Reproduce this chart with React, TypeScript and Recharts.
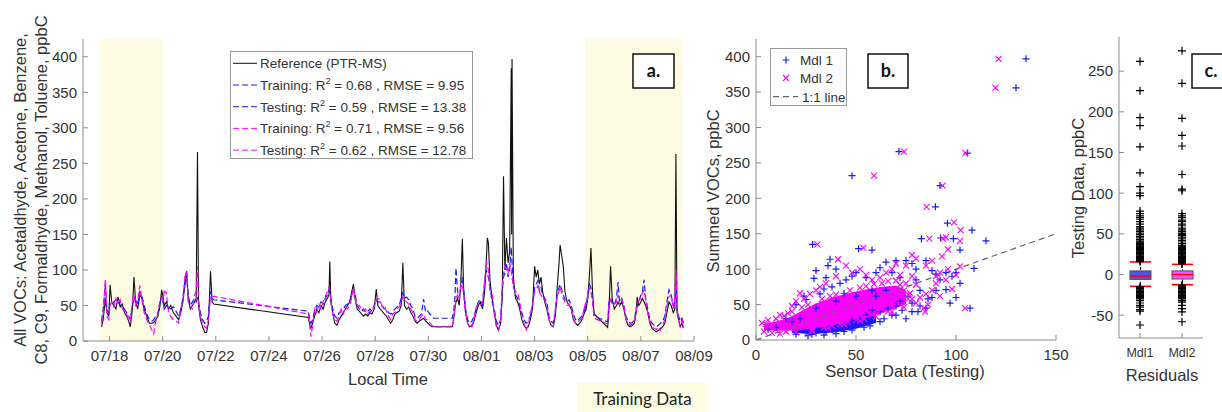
import React from 'react';
import { ComposedChart, Line, Area, Bar, Scatter, XAxis, YAxis, ReferenceArea } from 'recharts';

const FONT = '"Liberation Sans", Arial, Helvetica, sans-serif';
const TEXT = '#333';
const AXIS = '#8c8c8c';
const SHADE = '#fdfce3';
const BLUE = '#1a1aff';
const MAGENTA = '#ff00ff';

// ---------- panel a: days after 07/17 00:00 ----------
const time = [
  0.70, 0.76, 0.84, 0.90, 0.97, 1.02, 1.08, 1.16, 1.24, 1.32,
  1.40, 1.48, 1.56, 1.64, 1.72, 1.78, 1.86, 1.92, 1.98, 2.06,
  2.14, 2.22, 2.30, 2.40, 2.50, 2.60, 2.66, 2.74, 2.82, 2.90,
  2.96, 3.00, 3.06, 3.14, 3.22, 3.30, 3.40, 3.50, 3.60, 3.68,
  3.76, 3.84, 3.90, 3.96, 4.04, 4.12, 4.20, 4.26, 4.31, 4.35,
  4.42, 4.50, 4.58, 4.65, 4.72, 4.80, 4.86, 4.92,
  8.48, 8.54, 8.58, 8.64, 8.72, 8.80, 8.88, 8.96, 9.04, 9.12,
  9.20, 9.26, 9.29, 9.33, 9.40, 9.48, 9.56, 9.64, 9.72, 9.80,
  9.88, 9.96, 10.04, 10.12, 10.18, 10.24, 10.32, 10.40, 10.48, 10.56,
  10.64, 10.72, 10.80, 10.88, 10.96, 11.04, 11.10, 11.18, 11.26, 11.34,
  11.42, 11.50, 11.58, 11.66, 11.74, 11.82, 11.90, 11.98, 12.04, 12.10,
  12.18, 12.26, 12.34, 12.42, 12.50, 12.58, 12.66, 12.74, 12.82, 12.90,
  12.98, 13.06, 13.14, 13.20,
  13.90, 13.95, 14.00, 14.04, 14.10, 14.16, 14.22, 14.28, 14.33, 14.40,
  14.48, 14.56, 14.64, 14.72, 14.80, 14.88, 14.96, 15.04, 15.12, 15.18,
  15.22, 15.26, 15.32, 15.40, 15.48, 15.56, 15.64, 15.72, 15.78, 15.83,
  15.88, 15.94, 16.00, 16.06, 16.12, 16.135, 16.15, 16.20, 16.28, 16.36,
  16.44, 16.52, 16.60, 16.68, 16.76, 16.84, 16.92, 17.00, 17.06, 17.12,
  17.18, 17.24, 17.30, 17.38, 17.46, 17.54, 17.62, 17.70, 17.78, 17.86,
  17.92, 17.96, 18.02, 18.08, 18.14, 18.22, 18.30, 18.38, 18.46, 18.54,
  18.62, 18.70, 18.78, 18.86, 18.94, 19.00, 19.06, 19.12, 19.18, 19.24,
  19.75, 19.80, 19.86, 19.92, 20.00, 20.08, 20.14, 20.20, 20.28, 20.36,
  20.44, 20.52, 20.60, 20.68, 20.76, 20.82, 20.86, 20.92, 21.00, 21.06,
  21.12, 21.18, 21.26, 21.34, 21.42, 21.50, 21.58, 21.66, 21.74, 21.82,
  21.90, 21.98, 22.06, 22.14, 22.22, 22.28, 22.32, 22.36, 22.42, 22.48,
  22.54, 22.60,
];

const reference = [
  20, 30, 60, 40, 35, 79, 55, 50, 45, 62,
  48, 52, 40, 35, 28, 20, 45, 90, 55, 45,
  65, 60, 45, 35, 25, 25, 26, 30, 35, 50,
  72, 65, 50, 55, 45, 50, 40, 35, 30, 40,
  55, 80, 95, 60, 45, 50, 55, 60, 266, 50,
  30, 20, 12, 12, 25, 98, 55, 52,
  33, 22, 18, 25, 35, 45, 40, 50, 45, 55,
  60, 65, 112, 55, 40, 25, 22, 30, 35, 40,
  45, 50, 55, 70, 80, 60, 45, 42, 38, 35,
  38, 35, 40, 38, 45, 73, 50, 45, 42, 38,
  35, 30, 25, 30, 38, 40, 42, 50, 110, 50,
  45, 48, 40, 35, 28, 25, 28, 30, 32, 28,
  25, 22, 20, 20,
  20, 30, 45, 55, 60, 50, 80, 144, 70, 40,
  25, 20, 22, 28, 40, 50, 55, 45, 70, 110,
  145, 138, 85, 60, 40, 22, 15, 25, 60, 232,
  100, 145, 110, 125, 384, 150, 397, 90, 60, 55,
  45, 30, 22, 18, 20, 30, 45, 105, 90, 100,
  80, 90, 70, 55, 45, 30, 22, 20, 35, 80,
  110, 135, 120, 105, 70, 55, 50, 45, 30, 25,
  22, 25, 30, 38, 45, 60, 90, 131, 70, 38,
  19, 45, 105, 60, 45, 50, 55, 50, 55, 45,
  30, 22, 20, 22, 25, 40, 62, 50, 55, 60,
  55, 50, 40, 25, 18, 15, 13, 15, 18, 20,
  25, 40, 55, 50, 40, 45, 263, 40, 30, 20,
  25, 18,
];

const mdl1 = [
  28, 45, 80, 45, 38, 52, 50, 55, 58, 55,
  50, 50, 45, 40, 35, 30, 50, 60, 58, 50,
  70, 62, 50, 38, 30, 28, 30, 35, 38, 55,
  62, 58, 45, 50, 48, 45, 48, 42, 35, 45,
  60, 85, 100, 65, 50, 55, 60, 55, 60, 55,
  40, 30, 25, 28, 35, 70, 60, 58,
  42, 30, 25, 30, 42, 50, 48, 55, 52, 60,
  65, 72, 68, 60, 45, 35, 32, 40, 42, 45,
  50, 52, 55, 65, 72, 65, 50, 45, 42, 45,
  40, 42, 45, 42, 50, 58, 55, 55, 50, 45,
  45, 40, 38, 40, 45, 48, 50, 60, 68, 60,
  62, 58, 50, 45, 35, 32, 35, 38, 59, 40,
  42, 38, 35, 32,
  32, 40, 60, 103, 70, 60, 75, 90, 72, 45,
  30, 25, 28, 35, 45, 55, 58, 50, 80, 100,
  95, 90, 75, 55, 45, 28, 22, 30, 70, 90,
  95, 110, 90, 100, 132, 120, 110, 80, 65, 60,
  50, 40, 30, 25, 28, 36, 50, 75, 80, 85,
  70, 75, 65, 60, 55, 35, 28, 25, 40, 70,
  75, 80, 72, 65, 58, 55, 58, 50, 38, 30,
  28, 32, 35, 42, 50, 65, 80, 75, 60, 35,
  27, 55, 60, 55, 50, 60, 83, 55, 60, 50,
  35, 28, 25, 26, 30, 45, 50, 55, 65, 70,
  86, 60, 45, 30, 25, 22, 20, 22, 25, 28,
  35, 55, 72, 65, 50, 55, 80, 45, 35, 28,
  32, 25,
];

const mdl2 = [
  25, 40, 87, 35, 30, 50, 55, 48, 60, 52,
  58, 45, 42, 38, 30, 28, 55, 65, 50, 55,
  78, 58, 40, 30, 22, 15, 10, 28, 40, 58,
  60, 55, 70, 68, 40, 35, 30, 28, 25, 45,
  58, 92, 98, 55, 48, 45, 65, 70, 105, 50,
  35, 25, 20, 18, 30, 60, 62, 63,
  38, 20, 6, 20, 45, 40, 52, 45, 55, 62,
  70, 76, 72, 55, 38, 30, 28, 35, 45, 38,
  48, 45, 50, 62, 75, 60, 48, 50, 45, 42,
  45, 38, 42, 40, 48, 55, 60, 58, 48, 50,
  42, 35, 30, 38, 40, 45, 48, 55, 62, 58,
  55, 52, 45, 40, 30, 28, 30, 35, 38, 30,
  30, 25, 22, 20,
  20, 32, 48, 60, 65, 58, 78, 80, 65, 40,
  25, 18, 20, 30, 48, 52, 50, 55, 85, 114,
  105, 100, 70, 65, 40, 20, 16, 28, 75, 95,
  105, 100, 95, 110, 100, 95, 90, 75, 70, 68,
  55, 35, 25, 15, 22, 40, 48, 70, 72, 78,
  68, 65, 60, 58, 50, 30, 22, 20, 45, 65,
  70, 76, 68, 60, 55, 50, 52, 45, 32, 25,
  25, 30, 32, 45, 55, 60, 75, 70, 55, 32,
  24, 50, 58, 50, 52, 55, 65, 50, 58, 48,
  30, 25, 22, 24, 28, 42, 48, 58, 60, 68,
  72, 58, 40, 28, 20, 18, 16, 20, 15, 22,
  30, 48, 62, 65, 45, 60, 100, 50, 28, 22,
  30, 20,
];

const trainingPeriods = [[0.64, 3.0], [18.92, 22.56]];
const dateTicks = [1, 3, 5, 7, 9, 11, 13, 15, 17, 19, 21, 23];
const dateLabels = ['07/18', '07/20', '07/22', '07/24', '07/26', '07/28', '07/30', '08/01', '08/03', '08/05', '08/07', '08/09'];
const vocTicks = [0, 50, 100, 150, 200, 250, 300, 350, 400];

const fitStats = [
  { set: 'Training', r2: '0.68', rmse: '9.95' },
  { set: 'Testing', r2: '0.59', rmse: '13.38' },
  { set: 'Training', r2: '0.71', rmse: '9.56' },
  { set: 'Testing', r2: '0.62', rmse: '12.78' },
];

// ---------- panel b: sensor (x) vs summed VOCs (y) ----------
const mdl1Points = [
  [135, 397], [130, 356], [71.5, 266], [48, 232], [105.7, 264], [92, 218], [89.7, 188], [95.7, 165], [108, 155], [115, 140],
  [28.3, 135], [82.7, 143], [92.3, 144], [98.7, 143], [51.3, 129], [58, 127], [102, 127], [109, 101], [107, 45], [81, 40],
  [78, 40], [95, 71], [37, 114], [29, 87], [30, 98], [36, 105], [40, 100], [45, 85], [48, 90], [50, 95],
  [55, 88], [60, 95], [62, 102], [65, 110], [68, 95], [70, 112], [75, 112], [78, 108], [80, 100], [85, 112],
  [88, 98], [90, 93], [92, 85], [95, 95], [98, 90], [100, 95], [102, 80], [100, 60], [97, 52], [90, 70],
  [86, 58], [82, 70], [76, 62], [72, 55], [70, 48], [66, 45], [62, 40], [58, 42], [55, 35], [52, 30],
  [48, 28], [45, 22], [42, 18], [38, 15], [35, 12], [30, 10], [28, 8], [25, 10], [22, 30], [24, 62],
  [25, 57], [32, 65], [34, 72], [38, 75], [42, 80], [35, 88], [20, 50], [15, 30], [10, 18], [6, 15],
  [75, 30], [70, 35], [85, 45], [88, 60], [60, 62], [65, 70], [80, 85], [72, 88],
  [26, 6], [34, 7], [44, 12], [54, 18], [62, 26], [68, 35], [18, 26], [30, 45], [40, 55], [50, 62],
  [58, 70], [20, 8], [40, 9], [48, 14], [57, 20], [64, 30], [73, 42], [78, 52], [82, 48], [44, 66],
];
const mdl2Points = [
  [121.3, 397], [119.7, 356], [74, 266], [59, 232], [104.7, 264], [93.3, 218], [85.3, 188], [99, 166], [102.3, 155], [102, 140],
  [30.7, 135], [86.7, 143], [93.5, 143], [53.7, 130], [104.5, 45], [84.5, 40], [41, 114], [102, 104], [95, 145], [96, 128],
  [93, 118], [88, 112], [85, 105], [80, 115], [78, 120], [75, 105], [70, 108], [72, 92], [68, 100], [65, 95],
  [62, 88], [58, 85], [55, 92], [52, 100], [48, 95], [45, 105], [40, 90], [35, 80], [32, 75], [30, 70],
  [27, 65], [22, 66], [20, 55], [18, 48], [24, 58], [12, 35], [5, 22], [3, 24], [8, 10], [15, 12],
  [90, 90], [92, 95], [96, 100], [100, 92], [90, 80], [88, 70], [85, 65], [82, 60], [80, 78], [78, 90],
  [95, 85], [98, 72], [92, 62], [86, 50], [84, 45], [80, 52], [76, 58], [74, 70], [70, 62], [75, 80],
  [66, 40], [62, 45], [68, 50], [58, 36], [54, 30], [50, 28], [46, 25], [42, 22], [38, 20], [34, 18],
  [28, 15], [60, 55], [65, 65],
  [10, 30], [14, 34], [18, 40], [26, 50], [33, 58], [40, 64], [47, 70], [55, 76], [63, 80], [70, 84],
  [12, 9], [20, 11], [28, 13], [36, 17], [44, 22], [52, 27], [60, 33], [68, 40], [74, 46], [6, 28],
  [4, 12], [16, 38], [23, 46], [37, 62], [52, 74], [59, 79], [66, 83], [72, 78], [77, 66], [78, 58],
];
// dense core of each cloud: sensor value, low / high reference value
const mdl1CoreX = [18, 30, 40, 50, 60];
const mdl1CoreLow = [10, 9, 11, 16, 24];
const mdl1CoreHigh = [20, 30, 38, 45, 52];
const mdl2CoreX = [4, 10, 16, 22, 30, 38, 46, 54, 62, 70, 75];
const mdl2CoreLow = [14, 13, 13, 14, 17, 21, 26, 31, 37, 45, 51];
const mdl2CoreHigh = [23, 26, 31, 40, 52, 60, 66, 71, 75, 77, 70];
const oneToOne = [0, 150];

// ---------- panel c: residual box plots ----------
const boxNames = ['Mdl1', 'Mdl2'];
const whiskerLow = [-14.5, -12.5];
const quartile1 = [-6, -5.5];
const medians = [-2, 0];
const quartile3 = [4.5, 4.5];
const whiskerHigh = [15.5, 12.5];
const mdl1Outliers = [
  262, 226, 193, 183, 157, 125, 108, 100, 97, 78, 75, 72, 70, 68, 65, 62, 59, 57, 55, 53,
  51, 49, 47, 45, 43, 41, 40, 39, 38, 37, 36, 35, 34, 33, 32, 31, 30, 29, 28, 27,
  26, 25, 24, 23, 22, 21, 20, 19, 18, 17, 16,
  -15, -16, -17, -18, -19, -20, -21, -22, -23, -24, -25, -26, -27, -28, -29, -30, -32, -35, -38, -40,
  -43, -45, -62,
];
const mdl2Outliers = [
  275, 235, 192, 171, 158, 123, 105, 103, 75, 72, 70, 67, 65, 62, 60, 57, 55, 53, 51, 50,
  49, 48, 46, 44, 42, 40, 38, 36, 35, 34, 33, 32, 31, 30, 29, 28, 27, 26, 25, 24,
  23, 22, 21, 20, 19, 18, 17, 16, 15, 14, 13,
  -13, -14, -15, -16, -17, -18, -19, -20, -21, -22, -23, -24, -25, -26, -27, -28, -29, -30, -32, -34,
  -38, -42, -46, -58,
];
const residualTicks = [-50, 0, 50, 100, 150, 200, 250];

// ---------- derived rows ----------
const inTraining = (t: number) => trainingPeriods.some(([a, b]) => t >= a && t <= b);
const trainFlags = time.map(inTraining);
const rowsA = time.map((t, i) => {
  const tr = trainFlags[i] || trainFlags[i - 1] === true || trainFlags[i + 1] === true;
  const te = !trainFlags[i] || trainFlags[i - 1] === false || trainFlags[i + 1] === false;
  return {
    t,
    ref: reference[i],
    m1Train: tr ? mdl1[i] : null,
    m1Test: te ? mdl1[i] : null,
    m2Train: tr ? mdl2[i] : null,
    m2Test: te ? mdl2[i] : null,
  };
});
const pts1 = mdl1Points.map(([x, y]) => ({ x, y }));
const pts2 = mdl2Points.map(([x, y]) => ({ x, y }));
const core1 = mdl1CoreX.map((x, i) => ({ x, band: [mdl1CoreLow[i], mdl1CoreHigh[i]] }));
const core2 = mdl2CoreX.map((x, i) => ({ x, band: [mdl2CoreLow[i], mdl2CoreHigh[i]] }));
const diag = oneToOne.map((v) => ({ x: v, y: v }));
const boxRows = boxNames.map((name, i) => ({
  name,
  range: [whiskerLow[i], whiskerHigh[i]],
  q1: quartile1[i],
  med: medians[i],
  q3: quartile3[i],
}));
const out1 = mdl1Outliers.map((v) => ({ name: 'Mdl1', v }));
const out2 = mdl2Outliers.map((v) => ({ name: 'Mdl2', v }));
const boxFill: Record<string, string> = { Mdl1: '#5252e6', Mdl2: '#ff50ff' };

const tickStyle = { fill: TEXT, fontSize: 15, fontFamily: FONT };
const frame = { stroke: AXIS, tickSize: -5, interval: 0 as const, allowDataOverflow: true };

const plusShape = (color: string, r: number) => (p: any) => (
  <path d={`M${p.cx - r},${p.cy}H${p.cx + r}M${p.cx},${p.cy - r}V${p.cy + r}`} stroke={color} strokeWidth={1.2} fill="none" />
);
const crossShape = (color: string, r: number) => (p: any) => (
  <path
    d={`M${p.cx - r},${p.cy - r}L${p.cx + r},${p.cy + r}M${p.cx - r},${p.cy + r}L${p.cx + r},${p.cy - r}`}
    stroke={color}
    strokeWidth={1.1}
    fill="none"
  />
);

const BoxShape = (p: any) => {
  const { x, y, width, height, payload } = p;
  const [lo, hi] = payload.range;
  const top = Math.min(y, y + height);
  const h = Math.abs(height);
  const py = (v: number) => top + (h * (hi - v)) / (hi - lo);
  const cx = x + width / 2;
  return (
    <g>
      <line x1={cx} x2={cx} y1={py(hi)} y2={py(lo)} stroke="#000" strokeDasharray="3 2" />
      <rect x={x} y={py(payload.q3)} width={width} height={py(payload.q1) - py(payload.q3)} fill={boxFill[payload.name]} stroke="#555" />
      <line x1={x} x2={x + width} y1={py(payload.med)} y2={py(payload.med)} stroke="#ff0000" strokeWidth={1.3} />
      <line x1={x} x2={x + width} y1={py(hi)} y2={py(hi)} stroke="#ff0000" strokeWidth={1.6} />
      <line x1={x} x2={x + width} y1={py(lo)} y2={py(lo)} stroke="#ff0000" strokeWidth={1.6} />
    </g>
  );
};

function PanelA() {
  return (
    <ComposedChart width={720} height={412} data={rowsA} margin={{ top: 39, right: 26, bottom: 41, left: 43 }}>
      <XAxis
        {...frame}
        dataKey="t"
        type="number"
        domain={[0, 23]}
        ticks={dateTicks}
        tickFormatter={(v: number) => dateLabels[dateTicks.indexOf(v)]}
        height={30}
        tickMargin={14}
        tick={tickStyle}
      />
      <XAxis {...frame} xAxisId="top" orientation="top" type="number" domain={[0, 23]} ticks={dateTicks} height={0} tick={false} />
      <YAxis {...frame} type="number" domain={[0, 425]} ticks={vocTicks} width={40} tickMargin={11} tick={tickStyle} />
      <YAxis {...frame} yAxisId="right" orientation="right" type="number" domain={[0, 425]} ticks={vocTicks} width={0} tick={false} />
      {trainingPeriods.map(([a, b]) => (
        <ReferenceArea key={a} x1={a} x2={b} fill={SHADE} fillOpacity={1} stroke="none" ifOverflow="hidden" />
      ))}
      <Line dataKey="ref" stroke="#111" strokeWidth={1.1} dot={false} isAnimationActive={false} />
      <Line dataKey="m1Train" stroke={BLUE} strokeWidth={1.2} strokeDasharray="6 3" dot={false} isAnimationActive={false} />
      <Line dataKey="m1Test" stroke={BLUE} strokeWidth={1.2} strokeDasharray="6 3" dot={false} isAnimationActive={false} />
      <Line dataKey="m2Train" stroke={MAGENTA} strokeWidth={1.2} strokeDasharray="6 3" dot={false} isAnimationActive={false} />
      <Line dataKey="m2Test" stroke={MAGENTA} strokeWidth={1.2} strokeDasharray="6 3" dot={false} isAnimationActive={false} />
    </ComposedChart>
  );
}

function PanelB() {
  return (
    <ComposedChart width={380} height={412} margin={{ top: 39, right: 24, bottom: 42, left: 16 }}>
      <XAxis {...frame} dataKey="x" type="number" domain={[0, 150]} ticks={[0, 50, 100, 150]} height={30} tickMargin={14} tick={tickStyle} />
      <XAxis {...frame} xAxisId="top" orientation="top" type="number" domain={[0, 150]} ticks={[0, 50, 100, 150]} height={0} tick={false} />
      <YAxis {...frame} dataKey="y" type="number" domain={[0, 425]} ticks={vocTicks} width={40} tickMargin={11} tick={tickStyle} />
      <YAxis {...frame} yAxisId="right" orientation="right" type="number" domain={[0, 425]} ticks={vocTicks} width={0} tick={false} />
      <Area data={core1} dataKey="band" type="linear" stroke="none" fill={BLUE} fillOpacity={1} isAnimationActive={false} />
      <Scatter data={pts1} shape={plusShape(BLUE, 3.5)} isAnimationActive={false} />
      <Area data={core2} dataKey="band" type="linear" stroke="none" fill={MAGENTA} fillOpacity={1} isAnimationActive={false} />
      <Scatter data={pts2} shape={crossShape(MAGENTA, 3)} isAnimationActive={false} />
      <Line data={diag} dataKey="y" stroke="#666" strokeWidth={1.2} strokeDasharray="6 4" dot={false} isAnimationActive={false} />
    </ComposedChart>
  );
}

function PanelC() {
  return (
    <ComposedChart width={137} height={412} data={boxRows} margin={{ top: 37, right: 19, bottom: 44, left: 0 }}>
      <XAxis
        {...frame}
        dataKey="name"
        type="category"
        allowDuplicatedCategory={false}
        height={30}
        tickMargin={15}
        tick={{ ...tickStyle, fontSize: 12.5 }}
      />
      <XAxis {...frame} xAxisId="top" orientation="top" type="number" domain={[0, 2]} ticks={[0.5, 1.5]} height={0} tick={false} />
      <YAxis {...frame} dataKey="v" type="number" domain={[-78, 292]} ticks={residualTicks} width={34} tickMargin={11} tick={tickStyle} />
      <YAxis {...frame} yAxisId="right" orientation="right" type="number" domain={[-78, 292]} ticks={residualTicks} width={0} tick={false} />
      <Scatter data={out1} shape={plusShape('#000', 4)} isAnimationActive={false} />
      <Scatter data={out2} shape={plusShape('#000', 4)} isAnimationActive={false} />
      <Bar dataKey="range" barSize={21} shape={BoxShape} isAnimationActive={false} />
    </ComposedChart>
  );
}

function Overlay() {
  const title = { fontSize: 16.5, fill: TEXT, textAnchor: 'middle' as const };
  const rowY = (i: number) => 63.3 + i * 21.7;
  return (
    <svg width={1222} height={412} style={{ position: 'absolute', left: 0, top: 0, pointerEvents: 'none' }} fontFamily={FONT}>
      <text {...title} transform="translate(26,190) rotate(-90)">All VOCs: Acetaldhyde, Acetone, Benzene,</text>
      <text {...title} transform="translate(47,190) rotate(-90)">C8, C9, Formaldhyde, Methanol, Toluene, ppbC</text>
      <text {...title} x={388} y={385}>Local Time</text>
      <text {...title} transform="translate(719,191) rotate(-90)">Summed VOCs, ppbC</text>
      <text {...title} x={905} y={377}>Sensor Data (Testing)</text>
      <text {...title} transform="translate(1084,188) rotate(-90)">Testing Data, ppbC</text>
      <text {...title} x={1162} y={381}>Residuals</text>

      {/* legend a */}
      <rect x={230.5} y={51.5} width={242} height={107} fill="#fff" stroke="#999" />
      <line x1={233} x2={257} y1={rowY(0)} y2={rowY(0)} stroke="#111" />
      <text x={260} y={rowY(0) + 4.8} fontSize={13.5} fill={TEXT}>Reference (PTR-MS)</text>
      {fitStats.map((s, i) => (
        <g key={i}>
          <line x1={233} x2={257} y1={rowY(i + 1)} y2={rowY(i + 1)} stroke={i < 2 ? BLUE : MAGENTA} strokeDasharray="6 3" />
          <text x={260} y={rowY(i + 1) + 4.8} fontSize={13.5} fill={TEXT}>
            {s.set}: R<tspan dy={-6} fontSize={9}>2</tspan>
            <tspan dy={6}>{` = ${s.r2} , RMSE = ${s.rmse}`}</tspan>
          </text>
        </g>
      ))}

      {/* legend b */}
      <rect x={770.5} y={48.5} width={76} height={57} fill="#fff" stroke="#999" />
      <path d="M782.5,60H789.5M786,56.5V63.5" stroke={BLUE} strokeWidth={1.2} />
      <text x={800} y={65} fontSize={13.5} fill={TEXT}>Mdl 1</text>
      <path d="M783,75L789,81M783,81L789,75" stroke={MAGENTA} strokeWidth={1.1} />
      <text x={800} y={83} fontSize={13.5} fill={TEXT}>Mdl 2</text>
      <line x1={773} x2={798} y1={96.7} y2={96.7} stroke="#666" strokeDasharray="6 4" strokeWidth={1.2} />
      <text x={802} y={101.5} fontSize={13.5} fill={TEXT}>1:1 line</text>

      {/* panel tags */}
      <rect x={633} y={54} width={41} height={34} fill="#fff" stroke="#111" strokeWidth={1.5} />
      <text x={653.5} y={77} textAnchor="middle" fontFamily="Lato, sans-serif" fontWeight="bold" fontSize={18} fill="#111">a.</text>
      <rect x={868} y={54} width={40} height={34} fill="#fff" stroke="#111" strokeWidth={1.5} />
      <text x={888} y={77} textAnchor="middle" fontFamily="Lato, sans-serif" fontWeight="bold" fontSize={18} fill="#111">b.</text>
      <rect x={1192} y={54} width={60} height={34} fill="#fff" stroke="#111" strokeWidth={1.5} />
      <text x={1211} y={77} textAnchor="middle" fontFamily="Lato, sans-serif" fontWeight="bold" fontSize={18} fill="#111">c.</text>

      {/* shading key */}
      <rect x={577} y={383} width={131} height={30} fill={SHADE} />
      <text x={642.5} y={405} textAnchor="middle" fontFamily="Lato, sans-serif" fontSize={17} fill="#222">Training Data</text>
    </svg>
  );
}

export default function App() {
  return (
    <div style={{ position: 'relative', width: 1222, height: 412, background: '#fff', overflow: 'hidden' }}>
      <style>{'body{margin:0}'}</style>
      <div style={{ position: 'absolute', left: 0, top: 0 }}>
        <PanelA />
      </div>
      <div style={{ position: 'absolute', left: 700, top: 0 }}>
        <PanelB />
      </div>
      <div style={{ position: 'absolute', left: 1085, top: 0 }}>
        <PanelC />
      </div>
      <Overlay />
    </div>
  );
}
